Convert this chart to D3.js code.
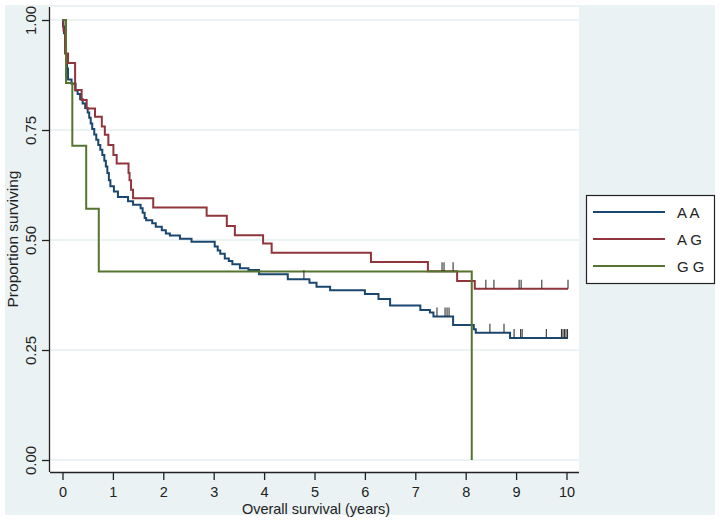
<!DOCTYPE html>
<html><head><meta charset="utf-8">
<script src="https://cdn.jsdelivr.net/npm/d3@7"></script>
<style>body{margin:0;background:#fff}svg{display:block}text{font-family:"Liberation Sans",Arial,sans-serif;fill:#222}</style>
</head><body>
<script>
// ---- data ----
const groups = ["A A", "A G", "G G"];
const colors = ["#1a476f", "#90353b", "#55752f"];

const timeAA = [0,0.01,0.03,0.05,0.07,0.09,0.11,0.18,0.26,0.30,0.35,0.40,0.45,0.50,0.53,0.56,0.59,0.63,0.67,0.71,0.75,0.79,0.83,0.86,0.89,0.92,0.95,1.02,1.10,1.30,1.40,1.55,1.59,1.63,1.66,1.78,1.85,1.97,2.05,2.13,2.33,2.56,3.02,3.08,3.13,3.22,3.30,3.37,3.52,3.69,3.90,4.47,4.90,5.04,5.31,6.00,6.27,6.50,7.10,7.29,7.36,7.75,8.16,8.20,8.88,10.03];
const survAA = [1,0.985,0.97,0.95,0.92,0.89,0.865,0.855,0.84,0.832,0.82,0.81,0.80,0.79,0.778,0.765,0.752,0.74,0.728,0.716,0.705,0.693,0.68,0.667,0.652,0.636,0.622,0.61,0.598,0.588,0.58,0.572,0.562,0.55,0.545,0.538,0.53,0.522,0.515,0.51,0.503,0.496,0.485,0.476,0.469,0.458,0.452,0.445,0.436,0.432,0.422,0.411,0.403,0.394,0.386,0.377,0.366,0.351,0.341,0.335,0.326,0.307,0.297,0.289,0.277,0.277];
const censorAA = [4.79,7.43,7.59,7.63,7.67,8.48,8.76,8.96,9.09,9.12,9.60,9.90,9.93,9.96,9.99,10.02];

const timeAG = [0,0.02,0.05,0.11,0.25,0.38,0.48,0.645,0.78,0.84,0.91,1.01,1.075,1.31,1.33,1.36,1.40,1.80,2.86,3.26,3.42,3.98,4.15,6.12,7.25,7.83,8.18,10.03];
const survAG = [1,0.976,0.924,0.902,0.841,0.818,0.799,0.78,0.758,0.739,0.716,0.693,0.674,0.652,0.636,0.614,0.595,0.574,0.555,0.532,0.511,0.492,0.471,0.45,0.429,0.407,0.389,0.389];
const censorAG = [7.53,7.57,7.75,8.40,8.56,9.06,9.10,9.51,10.03];

const timeGG = [0,0.07,0.195,0.47,0.72,8.12];
const survGG = [1,0.857,0.714,0.571,0.4286,0];
const censorGG = [];

const xTicks = [0,1,2,3,4,5,6,7,8,9,10];
const yTicks = [0,0.25,0.5,0.75,1];
const yTickLabels = ["0.00","0.25","0.50","0.75","1.00"];
const xTitle = "Overall survival (years)";
const yTitle = "Proportion surviving";

// ---- drawing ----
const W = 720, H = 521;
const svg = d3.select("body").append("svg").attr("width", W).attr("height", H);

svg.append("rect").attr("x",5).attr("y",5).attr("width",710).attr("height",510).attr("fill","#eaf2f3");
const plot = {l:50, r:579, t:7, b:472};
svg.append("rect").attr("x",plot.l).attr("y",plot.t).attr("width",plot.r-plot.l).attr("height",plot.b-plot.t).attr("fill","#fff");

const x = d3.scaleLinear().domain([0,10]).range([62.5,566.5]);
const y = d3.scaleLinear().domain([0,1]).range([460,20]);

// gridlines
svg.append("g").selectAll("line").data(yTicks).join("line")
  .attr("x1",plot.l).attr("x2",plot.r).attr("y1",d=>y(d)).attr("y2",d=>y(d))
  .attr("stroke","#e6eff1").attr("stroke-width",1.6);

// axes
const xAxis = d3.axisBottom(x).tickValues(xTicks).tickSize(8).tickPadding(4).tickFormat(d3.format("d"));
const gx = svg.append("g").attr("transform",`translate(0,${plot.b})`).call(xAxis);
gx.select(".domain").attr("d",`M${plot.l},0.5H${plot.r}`).attr("stroke","#222").attr("stroke-width",1.3);
gx.selectAll(".tick line").attr("stroke","#222").attr("stroke-width",1.3);
gx.selectAll(".tick text").attr("font-size",14.5).attr("font-family","Liberation Sans, Arial").attr("fill","#222")
  .attr("y",25).attr("dy",null);

const yAxis = d3.axisLeft(y).tickValues(yTicks).tickSize(8).tickFormat((d,i)=>yTickLabels[i]);
const gy = svg.append("g").attr("transform",`translate(${plot.l},0)`).call(yAxis);
gy.select(".domain").attr("d",`M-0.5,${plot.t}V${plot.b}`).attr("stroke","#222").attr("stroke-width",1.3);
gy.selectAll(".tick line").attr("stroke","#222").attr("stroke-width",1.3);
gy.selectAll(".tick text").attr("font-size",15).attr("font-family","Liberation Sans, Arial").attr("fill","#222")
  .attr("x",null).attr("dy",null).attr("text-anchor","middle")
  .attr("transform","translate(-14,0) rotate(-90)");

// titles
svg.append("text").attr("x",316).attr("y",513.5).attr("text-anchor","middle").attr("font-size",14.5).text(xTitle);
svg.append("text").attr("transform","translate(18,239) rotate(-90)").attr("text-anchor","middle").attr("font-size",15.5).text(yTitle);

// curves
const series = [
  {t:timeAA, s:survAA, c:censorAA},
  {t:timeAG, s:survAG, c:censorAG},
  {t:timeGG, s:survGG, c:censorGG}
];
const line = d3.line().x(d=>x(d[0])).y(d=>y(d[1])).curve(d3.curveStepAfter);
series.forEach((sr,i)=>{
  const pts = sr.t.map((t,j)=>[t, sr.s[j]]);
  svg.append("path").datum(pts).attr("d",line).attr("fill","none")
    .attr("stroke",colors[i]).attr("stroke-width",2);
});
// censor ticks
const bis = d3.bisector(d=>d).right;
series.forEach((sr,i)=>{
  const g = svg.append("g");
  sr.c.forEach(ct=>{
    const k = Math.max(0, bis(sr.t, ct)-1);
    const sv = sr.s[k];
    g.append("line").attr("x1",x(ct)).attr("x2",x(ct)).attr("y1",y(sv)).attr("y2",y(sv)-9)
      .attr("stroke","#333").attr("stroke-width",1.1);
  });
});

// legend
const lg = svg.append("g");
lg.append("rect").attr("x",586.5).attr("y",195.5).attr("width",128).attr("height",88).attr("fill","#fff").attr("stroke","#222").attr("stroke-width",1.2);
groups.forEach((gname,i)=>{
  const yy = 212 + i*27;
  lg.append("line").attr("x1",593).attr("x2",665).attr("y1",yy).attr("y2",yy).attr("stroke",colors[i]).attr("stroke-width",2);
  lg.append("text").attr("x",677).attr("y",yy+6).attr("font-size",15).text(gname);
});
</script>
</body></html>
